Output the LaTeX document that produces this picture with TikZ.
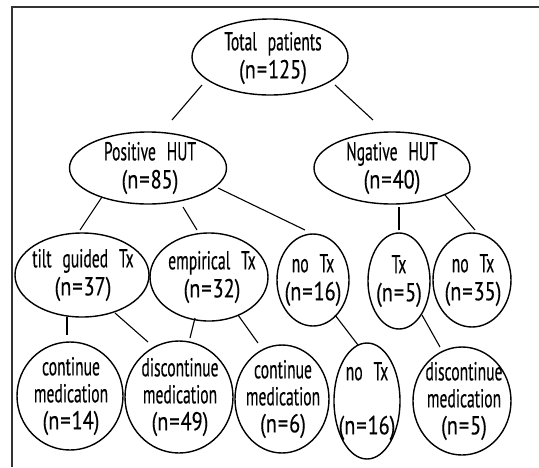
\documentclass[tikz,border=0pt]{standalone}
\usepackage{fontspec}
\setmainfont{PT Sans}[FakeStretch=0.6,WordSpace=2.6,FakeBold=0.3]
\newfontfamily\numfont{PT Sans}[FakeStretch=0.78,FakeBold=0.3]
\usetikzlibrary{shapes.geometric}
\newcommand\nval[1]{{\numfont(n\kern1pt=\kern1pt#1)}}
\begin{document}
\begin{tikzpicture}[x=1pt,y=-1pt,
  el/.style={draw, ellipse, line width=1.4pt, inner sep=0pt},
  txt/.style={inner sep=0pt, align=center, font=\fontsize{26}{28}\selectfont},
  txtb/.style={inner sep=0pt, align=center, font=\fontsize{26}{27}\selectfont},
  conn/.style={line width=1.1pt}]
\useasboundingbox (0,0) rectangle (539,467);
\draw[line width=2pt, black!80] (12,467) -- (12,7) -- (539,7);
% ellipses
\node[el, minimum width=156pt, minimum height=76pt] (tot) at (270,57) {};
\node[el, minimum width=157pt, minimum height=72pt] (pos) at (148,168) {};
\node[el, minimum width=156pt, minimum height=72pt] (neg) at (392,168) {};
\node[el, minimum width=134pt, minimum height=84pt] (tilt) at (82,275) {};
\node[el, minimum width=118pt, minimum height=88pt] (emp) at (209,277) {};
\node[el, minimum width=72pt, minimum height=92pt] (notx1) at (313,280) {};
\node[el, minimum width=62pt, minimum height=96pt] (tx) at (399,281) {};
\node[el, minimum width=78pt, minimum height=94pt] (notx2) at (472,280) {};
\node[el, minimum width=106pt, minimum height=108pt] (cont1) at (70,396) {};
\node[el, minimum width=108pt, minimum height=112pt] (disc1) at (179,397) {};
\node[el, minimum width=94pt, minimum height=108pt] (cont2) at (282,399) {};
\node[el, minimum width=66pt, minimum height=116pt] (notx3) at (367,401) {};
\node[el, minimum width=98pt, minimum height=108pt] (disc2) at (462,401) {};
% texts
\node[txt] (tot-t) at (273,58) {Total patients\\\nval{125}};
\node[txt] (pos-t) at (150,168) {Positive HUT\\\nval{85}};
\node[txt] (neg-t) at (392,168) {Ngative HUT\\\nval{40}};
\node[txt] (tilt-t) at (83,275) {tilt guided Tx\\\nval{37}};
\node[txt] (emp-t) at (212,277) {empirical Tx\\\nval{32}};
\node[txt] (notx1-t) at (313,280) {no Tx\\\nval{16}};
\node[txt] (tx-t) at (399,281) {Tx\\\nval{5}};
\node[txt] (notx2-t) at (473,280) {no Tx\\\nval{35}};
\node[txtb] (cont1-t) at (71,396) {continue\\medication\\\nval{14}};
\node[txtb] (disc1-t) at (180,397) {discontinue\\medication\\\nval{49}};
\node[txtb] (cont2-t) at (283,399) {continue\\medication\\\nval{6}};
\node[txtb] (notx3-t) at (367,401) {no Tx\\\strut\\\nval{16}};
\node[txtb] (disc2-t) at (464,401) {discontinue\\medication\\\nval{5}};
% connectors
\draw[conn] ([shift={(-68,28)}]tot.center) -- ([shift={(24,-48)}]pos.center);
\draw[conn] ([shift={(65,28)}]tot.center) -- ([shift={(-19,-48)}]neg.center);
\draw[conn] ([shift={(-46,29)}]pos.center) -- ([shift={(-2,-45)}]tilt.center);
\draw[conn] ([shift={(35,39)}]pos.center) -- ([shift={(-12,-47)}]emp.center);
\draw[conn] ([shift={(70,20)}]pos.center) -- ([shift={(-8,-50)}]notx1.center);
\draw[conn] ([shift={(7,39)}]neg.center) -- ([shift={(0,-51)}]tx.center);
\draw[conn] ([shift={(53,27)}]neg.center) -- ([shift={(3,-50)}]notx2.center);
\draw[conn] ([shift={(-15,42)}]tilt.center) -- ([shift={(-3,-61)}]cont1.center);
\draw[conn] ([shift={(33,38)}]tilt.center) -- ([shift={(-31,-55)}]disc1.center);
\draw[conn] ([shift={(-14,41)}]emp.center) -- ([shift={(11,-59)}]disc1.center);
\draw[conn] ([shift={(29,38)}]emp.center) -- ([shift={(-24,-56)}]cont2.center);
\draw[conn] ([shift={(22,35)}]notx1.center) -- ([shift={(-9,-56)}]notx3.center);
\draw[conn] ([shift={(23,34)}]tx.center) -- ([shift={(-22,-54)}]disc2.center);
\end{tikzpicture}
\end{document}
